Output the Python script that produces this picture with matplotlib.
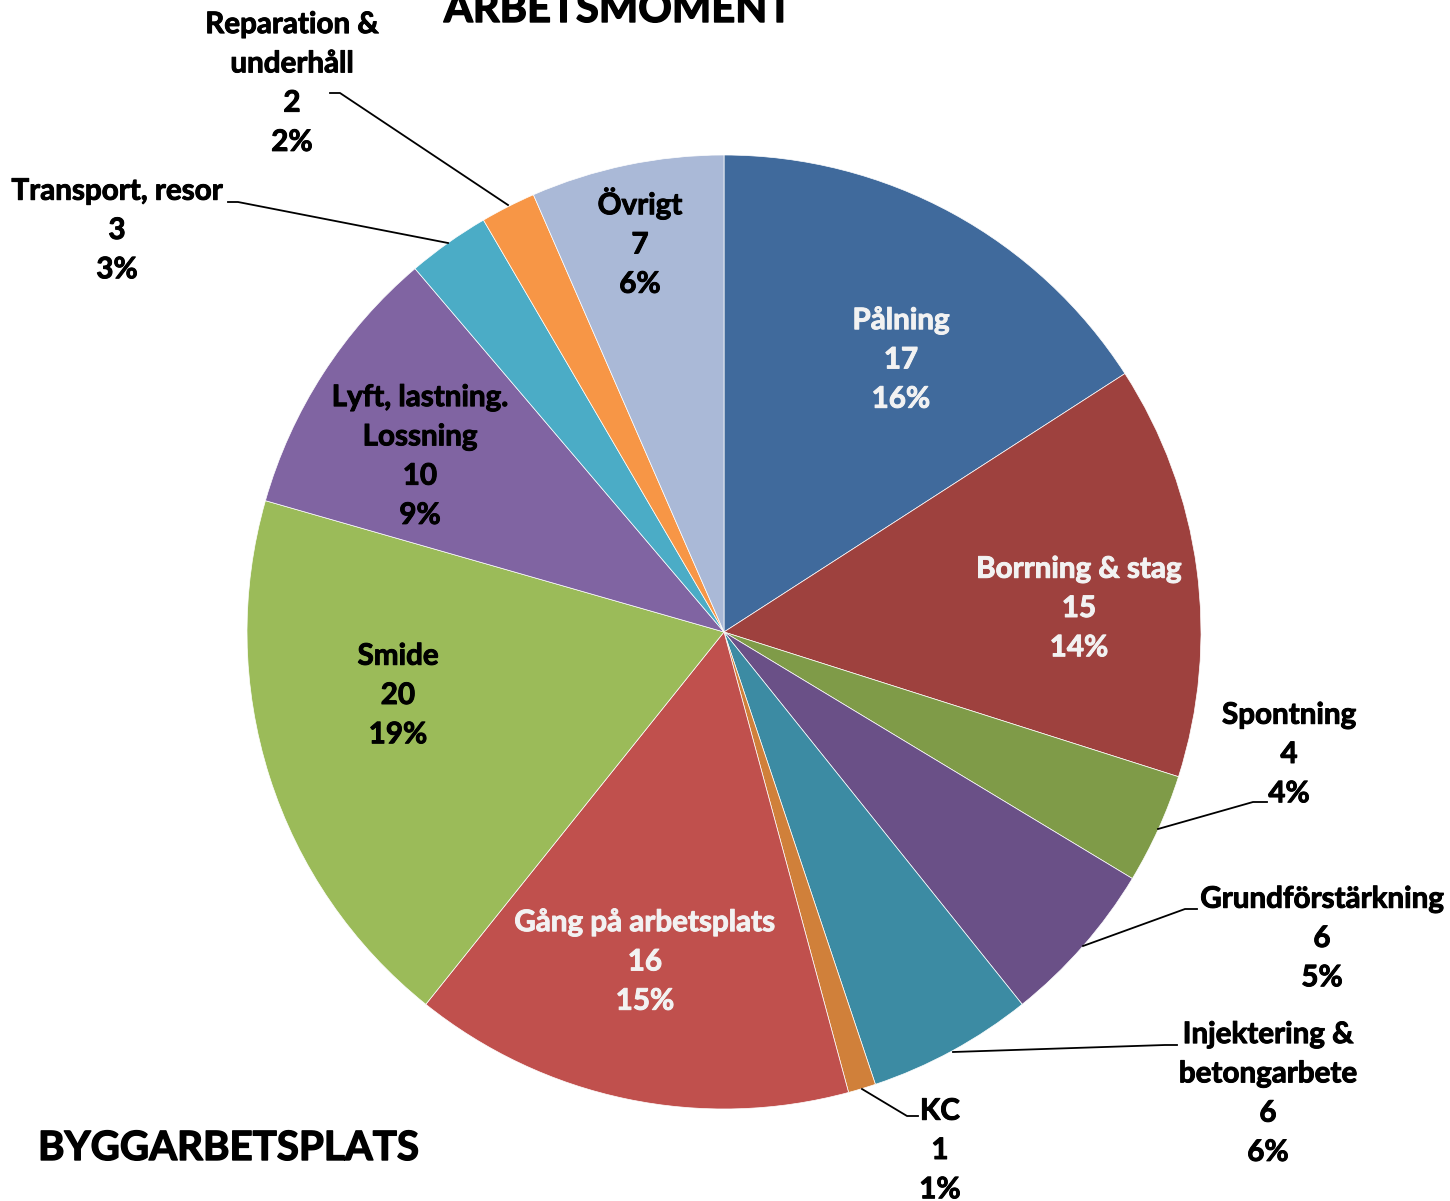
import matplotlib
matplotlib.use("Agg")
import matplotlib.pyplot as plt
import matplotlib.patheffects as pe

# ---- data ----
categories = ["Pålning", "Borrning & stag", "Spontning", "Grundförstärkning",
              "Injektering &\nbetongarbete", "KC", "Gång på arbetsplats", "Smide",
              "Lyft, lastning.\nLossning", "Transport, resor", "Reparation &\nunderhåll", "Övrigt"]
values = [17, 15, 4, 6, 6, 1, 16, 20, 10, 3, 2, 7]
pct_labels = ["16%", "14%", "4%", "5%", "6%", "1%", "15%", "19%", "9%", "3%", "2%", "6%"]
colors = ["#406A9C", "#9E413E", "#7F9B48", "#6A5087", "#3C8BA3", "#D0803A",
          "#C0504D", "#9BBB59", "#8064A2", "#4BACC6", "#F79646", "#AAB9D7"]
title_top = "ARBETSMOMENT"
title_bottom = "BYGGARBETSPLATS"

W, H = 1450, 1201
FONT = "Lato"


def Y(y):
    return H - y


fig = plt.figure(figsize=(W / 100, H / 100), dpi=100)
ax = fig.add_axes([0, 0, 1, 1])

cx, cy, r = 724, 632, 477
ax.pie(values, colors=colors, startangle=90, counterclock=False,
       center=(cx, Y(cy)), radius=r, frame=True,
       wedgeprops=dict(edgecolor="white", linewidth=0.5))
ax.set_xlim(0, W)
ax.set_ylim(0, H)
ax.set_aspect("equal")
ax.axis("off")

# label positions (image pixel coords) and text colours
label_pos = [(901, 359), (1079, 608), (1289, 754), (1322, 938), (1268, 1093),
             (940, 1150), (645, 961), (398, 695), (420, 456), (117, 230),
             (292, 83), (640, 242)]
label_col = ["#F2F2F2", "#F2F2F2", "black", "black", "black", "black",
             "#F2F2F2", "black", "black", "black", "black", "black"]

for name, v, p, (x, y), c in zip(categories, values, pct_labels, label_pos, label_col):
    ax.text(x, Y(y), f"{name}\n{v}\n{p}", ha="center", va="center",
            multialignment="center", color=c, fontsize=21.3,
            fontweight="bold", family=FONT, linespacing=1.49,
            path_effects=[pe.withStroke(linewidth=0.7, foreground=c)])

# leader lines (image pixel coords)
leaders = [
    [(1158, 829), (1253, 802), (1267, 802)],
    [(1083, 946), (1185, 909), (1197, 909)],
    [(953, 1052), (1165, 1045), (1177, 1045)],
    [(862, 1089), (907, 1116), (918, 1116)],
    [(448, 243), (238, 202), (228, 202)],
    [(508, 205), (340, 93), (330, 93)],
]
for pts in leaders:
    ax.plot([p[0] for p in pts], [Y(p[1]) for p in pts], color="black", lw=1.3)

tfx = [pe.withStroke(linewidth=1.0, foreground="black")]
ax.text(618, Y(22), title_top, ha="center", va="baseline", fontsize=30,
        fontweight="bold", family=FONT, color="black", path_effects=tfx)
ax.text(38, Y(1160), title_bottom, ha="left", va="baseline", fontsize=29,
        fontweight="bold", family=FONT, color="black", path_effects=tfx)

fig.savefig("out.png", dpi=100, facecolor="white")
